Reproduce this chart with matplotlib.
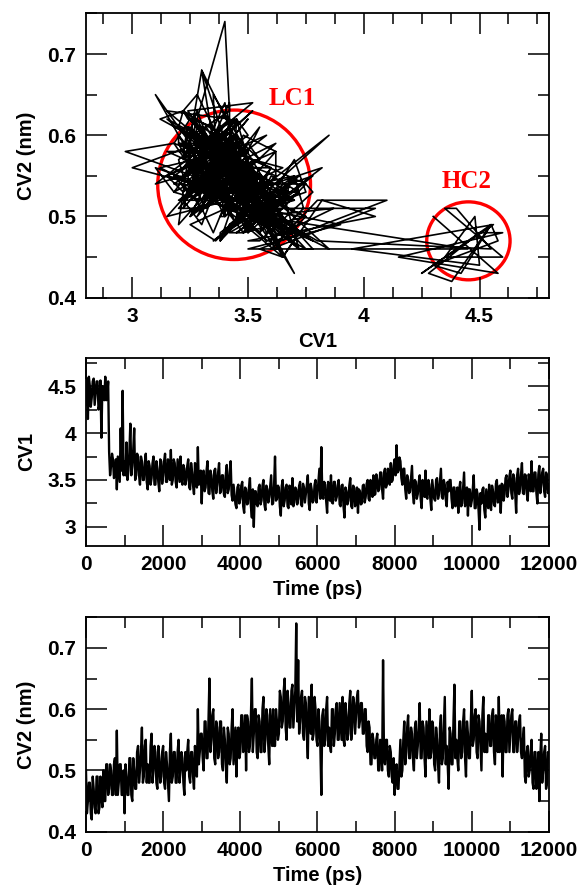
import numpy as np
import matplotlib
matplotlib.use('Agg')
import matplotlib.pyplot as plt
from matplotlib.patches import Ellipse
from matplotlib.ticker import MultipleLocator

# sampled every 25 ps, 0..12000 ps
time_ps = np.arange(0, 12001, 25)

cv1 = [
    4.30, 4.58, 4.15, 4.60, 4.50, 4.28, 4.38, 4.55, 4.58, 4.30, 4.42, 4.55, 4.55, 4.25, 4.30, 4.56, 3.95, 4.50, 4.48, 4.35,
    4.60, 4.35, 4.40, 4.55, 3.80, 3.55, 3.65, 3.78, 3.72, 3.52, 3.55, 3.72, 3.40, 3.75, 3.62, 3.48, 4.05, 3.60, 4.45, 3.55,
    3.70, 3.55, 3.90, 3.50, 3.60, 3.80, 4.10, 3.55, 3.65, 3.82, 4.05, 3.50, 3.55, 3.78, 3.75, 3.55, 3.45, 3.75, 3.70, 3.50,
    3.50, 3.68, 3.78, 3.48, 3.40, 3.70, 3.65, 3.45, 3.52, 3.68, 3.75, 3.45, 3.45, 3.70, 3.62, 3.48, 3.38, 3.72, 3.70, 3.46,
    3.55, 3.70, 3.78, 3.48, 3.48, 3.72, 3.65, 3.50, 3.82, 3.45, 3.50, 3.72, 3.68, 3.48, 3.42, 3.72, 3.60, 3.48, 3.75, 3.50,
    3.45, 3.66, 3.62, 3.45, 3.50, 3.65, 3.72, 3.42, 3.40, 3.68, 3.58, 3.44, 3.35, 3.68, 3.65, 3.42, 3.85, 3.45, 3.52, 3.60,
    3.25, 3.58, 3.60, 3.38, 3.42, 3.60, 3.70, 3.36, 3.35, 3.60, 3.55, 3.38, 3.30, 3.60, 3.62, 3.36, 3.45, 3.58, 3.68, 3.36,
    3.38, 3.55, 3.55, 3.35, 3.32, 3.56, 3.66, 3.36, 3.40, 3.58, 3.70, 3.34, 3.28, 3.45, 3.35, 3.24, 3.20, 3.42, 3.45, 3.25,
    3.30, 3.44, 3.48, 3.22, 3.15, 3.42, 3.40, 3.24, 3.25, 3.42, 3.52, 3.22, 3.10, 3.40, 3.00, 3.38, 3.38, 3.24, 3.22, 3.42,
    3.45, 3.24, 3.28, 3.44, 3.50, 3.24, 3.18, 3.44, 3.40, 3.26, 3.32, 3.44, 3.55, 3.24, 3.25, 3.44, 3.75, 3.28, 3.30, 3.44,
    3.42, 3.22, 3.12, 3.44, 3.50, 3.22, 3.28, 3.42, 3.45, 3.22, 3.20, 3.44, 3.38, 3.24, 3.52, 3.22, 3.26, 3.42, 3.40, 3.24,
    3.30, 3.44, 3.48, 3.24, 3.22, 3.46, 3.42, 3.26, 3.35, 3.45, 3.55, 3.25, 3.18, 3.46, 3.40, 3.26, 3.28, 3.45, 3.50, 3.26,
    3.35, 3.48, 3.62, 3.30, 3.85, 3.35, 3.30, 3.48, 3.45, 3.28, 3.15, 3.48, 3.40, 3.28, 3.55, 3.26, 3.25, 3.48, 3.48, 3.28,
    3.32, 3.44, 3.50, 3.24, 3.22, 3.44, 3.45, 3.22, 3.10, 3.42, 3.38, 3.24, 3.28, 3.44, 3.52, 3.22, 3.20, 3.44, 3.42, 3.22,
    3.30, 3.42, 3.15, 3.40, 3.38, 3.24, 3.25, 3.44, 3.45, 3.26, 3.32, 3.46, 3.50, 3.30, 3.28, 3.50, 3.42, 3.32, 3.55, 3.34,
    3.35, 3.56, 3.50, 3.38, 3.40, 3.58, 3.58, 3.40, 3.30, 3.58, 3.62, 3.42, 3.45, 3.62, 3.55, 3.45, 3.68, 3.48, 3.50, 3.66,
    3.72, 3.55, 3.87, 3.58, 3.60, 3.74, 3.70, 3.52, 3.45, 3.62, 3.62, 3.40, 3.30, 3.55, 3.50, 3.36, 3.38, 3.52, 3.65, 3.35,
    3.25, 3.50, 3.48, 3.30, 3.35, 3.48, 3.55, 3.30, 3.20, 3.50, 3.42, 3.32, 3.60, 3.32, 3.30, 3.50, 3.45, 3.30, 3.18, 3.50,
    3.40, 3.30, 3.28, 3.50, 3.52, 3.30, 3.35, 3.48, 3.62, 3.32, 3.30, 3.50, 3.45, 3.30, 3.22, 3.48, 3.38, 3.50, 3.50, 3.30,
    3.20, 3.42, 3.42, 3.22, 3.30, 3.42, 3.15, 3.40, 3.48, 3.22, 3.25, 3.42, 3.58, 3.22, 3.30, 3.42, 3.12, 3.40, 3.40, 3.22,
    3.28, 3.40, 3.55, 3.20, 3.20, 3.40, 3.35, 3.18, 2.97, 3.36, 3.25, 3.40, 3.42, 3.18, 3.10, 3.40, 3.30, 3.20, 3.45, 3.22,
    3.18, 3.44, 3.38, 3.24, 3.22, 3.46, 3.50, 3.26, 3.28, 3.44, 3.15, 3.46, 3.45, 3.28, 3.35, 3.52, 3.55, 3.32, 3.40, 3.54,
    3.60, 3.36, 3.30, 3.56, 3.52, 3.36, 3.15, 3.55, 3.62, 3.35, 3.40, 3.56, 3.68, 3.36, 3.35, 3.56, 3.55, 3.36, 3.28, 3.56,
    3.50, 3.38, 3.70, 3.38, 3.38, 3.58, 3.58, 3.36, 3.25, 3.56, 3.65, 3.36, 3.45, 3.58, 3.62, 3.38, 3.32, 3.58, 3.55, 3.36,
    3.45,
]

cv2 = [
    0.50, 0.43, 0.45, 0.48, 0.48, 0.43, 0.42, 0.49, 0.47, 0.44, 0.43, 0.49, 0.49, 0.43, 0.44, 0.49, 0.46, 0.44, 0.50, 0.45,
    0.45, 0.51, 0.51, 0.46, 0.47, 0.51, 0.50, 0.46, 0.46, 0.51, 0.52, 0.46, 0.565, 0.46, 0.48, 0.51, 0.51, 0.46, 0.46, 0.50,
    0.43, 0.51, 0.49, 0.46, 0.46, 0.52, 0.52, 0.46, 0.45, 0.52, 0.50, 0.47, 0.47, 0.53, 0.54, 0.48, 0.50, 0.53, 0.57, 0.48,
    0.49, 0.54, 0.55, 0.48, 0.51, 0.48, 0.48, 0.54, 0.56, 0.48, 0.50, 0.54, 0.53, 0.48, 0.47, 0.54, 0.52, 0.48, 0.49, 0.53,
    0.54, 0.48, 0.47, 0.53, 0.51, 0.48, 0.45, 0.53, 0.56, 0.48, 0.49, 0.53, 0.53, 0.48, 0.48, 0.53, 0.55, 0.48, 0.50, 0.53,
    0.52, 0.48, 0.46, 0.53, 0.50, 0.53, 0.55, 0.49, 0.48, 0.53, 0.53, 0.49, 0.47, 0.54, 0.51, 0.49, 0.60, 0.51, 0.53, 0.56,
    0.56, 0.52, 0.50, 0.58, 0.58, 0.52, 0.52, 0.58, 0.65, 0.53, 0.55, 0.59, 0.60, 0.52, 0.51, 0.58, 0.57, 0.52, 0.53, 0.58,
    0.58, 0.51, 0.50, 0.57, 0.55, 0.51, 0.48, 0.57, 0.56, 0.51, 0.52, 0.57, 0.60, 0.51, 0.54, 0.57, 0.49, 0.56, 0.57, 0.52,
    0.53, 0.59, 0.59, 0.53, 0.55, 0.59, 0.50, 0.59, 0.58, 0.53, 0.54, 0.59, 0.65, 0.53, 0.56, 0.60, 0.60, 0.53, 0.52, 0.59,
    0.58, 0.53, 0.53, 0.60, 0.62, 0.53, 0.55, 0.60, 0.59, 0.54, 0.51, 0.60, 0.57, 0.54, 0.60, 0.54, 0.54, 0.60, 0.58, 0.55,
    0.56, 0.63, 0.62, 0.57, 0.58, 0.63, 0.65, 0.57, 0.55, 0.63, 0.61, 0.57, 0.57, 0.63, 0.64, 0.57, 0.60, 0.63, 0.74, 0.58,
    0.68, 0.56, 0.58, 0.62, 0.63, 0.56, 0.55, 0.62, 0.61, 0.56, 0.52, 0.62, 0.59, 0.56, 0.64, 0.55, 0.56, 0.62, 0.60, 0.55,
    0.54, 0.60, 0.58, 0.54, 0.46, 0.59, 0.60, 0.54, 0.55, 0.60, 0.62, 0.54, 0.57, 0.54, 0.53, 0.60, 0.60, 0.54, 0.56, 0.60,
    0.61, 0.55, 0.55, 0.61, 0.58, 0.55, 0.62, 0.55, 0.54, 0.61, 0.59, 0.55, 0.56, 0.61, 0.63, 0.55, 0.57, 0.62, 0.61, 0.56,
    0.59, 0.62, 0.63, 0.57, 0.58, 0.61, 0.61, 0.56, 0.56, 0.60, 0.60, 0.54, 0.53, 0.58, 0.57, 0.51, 0.51, 0.56, 0.55, 0.52,
    0.52, 0.55, 0.56, 0.50, 0.50, 0.55, 0.54, 0.50, 0.68, 0.52, 0.51, 0.55, 0.55, 0.50, 0.49, 0.54, 0.53, 0.49, 0.48, 0.52,
    0.46, 0.50, 0.51, 0.47, 0.47, 0.51, 0.55, 0.49, 0.50, 0.55, 0.58, 0.51, 0.53, 0.57, 0.59, 0.52, 0.52, 0.57, 0.56, 0.52,
    0.50, 0.57, 0.58, 0.52, 0.54, 0.57, 0.61, 0.52, 0.52, 0.58, 0.57, 0.52, 0.49, 0.58, 0.55, 0.52, 0.60, 0.52, 0.53, 0.58,
    0.57, 0.51, 0.50, 0.57, 0.55, 0.51, 0.48, 0.57, 0.59, 0.51, 0.52, 0.57, 0.62, 0.51, 0.54, 0.51, 0.47, 0.57, 0.56, 0.51,
    0.51, 0.58, 0.64, 0.52, 0.55, 0.52, 0.50, 0.58, 0.58, 0.52, 0.53, 0.58, 0.60, 0.52, 0.49, 0.58, 0.56, 0.52, 0.52, 0.58,
    0.63, 0.54, 0.55, 0.59, 0.60, 0.53, 0.52, 0.59, 0.58, 0.54, 0.50, 0.59, 0.62, 0.53, 0.56, 0.53, 0.53, 0.59, 0.59, 0.54,
    0.54, 0.59, 0.60, 0.53, 0.51, 0.59, 0.57, 0.53, 0.62, 0.53, 0.55, 0.59, 0.49, 0.59, 0.58, 0.53, 0.53, 0.59, 0.60, 0.53,
    0.56, 0.59, 0.60, 0.53, 0.53, 0.58, 0.58, 0.53, 0.55, 0.58, 0.59, 0.53, 0.52, 0.55, 0.57, 0.49, 0.48, 0.53, 0.54, 0.49,
    0.50, 0.53, 0.55, 0.48, 0.47, 0.53, 0.53, 0.47, 0.49, 0.53, 0.45, 0.52, 0.56, 0.48, 0.50, 0.53, 0.54, 0.47, 0.48, 0.53,
    0.52,
]

# basin labels: name, centre (cv1, cv2), width, height, label position
basins = [
    ('LC1', (3.44, 0.539), 0.66, 0.184, (3.69, 0.645)),
    ('HC2', (4.452, 0.470), 0.36, 0.096, (4.446, 0.543)),
]

plt.rcParams['font.family'] = ['Liberation Sans', 'DejaVu Sans']
plt.rcParams['font.weight'] = 'bold'
plt.rcParams['axes.labelweight'] = 'bold'
plt.rcParams['axes.linewidth'] = 1.3


def style_axes(ax):
    ax.tick_params(which='both', direction='in', top=True, right=True,
                   labelsize=15, width=1.1)
    ax.tick_params(which='major', length=15, pad=7)
    ax.tick_params(which='minor', length=8)
    for lab in ax.get_xticklabels() + ax.get_yticklabels():
        lab.set_fontweight('bold')


fig = plt.figure(figsize=(5.77, 8.94), dpi=100)

ax1 = fig.add_axes([0.149, 0.667, 0.8024, 0.318])
ax1.plot(cv1, cv2, color='black', lw=1.2)
for name, centre, w, h, pos in basins:
    ax1.add_patch(Ellipse(centre, w, h, fill=False, edgecolor='#ff0000', lw=2.4))
    ax1.text(pos[0], pos[1], name, color='#ff0000', fontsize=18, fontweight='bold',
             family='Liberation Serif', ha='center', va='center')
ax1.set_xlim(2.8, 4.8)
ax1.set_ylim(0.4, 0.75)
ax1.xaxis.set_minor_locator(MultipleLocator(0.125))
ax1.yaxis.set_minor_locator(MultipleLocator(0.05))
ax1.set_xticks([3, 3.5, 4, 4.5])
ax1.set_xticklabels(['3', '3.5', '4', '4.5'])
ax1.set_yticks([0.4, 0.5, 0.6, 0.7])
ax1.set_yticklabels(['0.4', '0.5', '0.6', '0.7'])
ax1.set_xlabel('CV1', fontsize=14.5, labelpad=4)
ax1.set_ylabel('CV2 (nm)', fontsize=14.5, labelpad=8)
style_axes(ax1)

ax2 = fig.add_axes([0.149, 0.3896, 0.8024, 0.210])
ax2.plot(time_ps, cv1, color='black', lw=1.7)
ax2.set_xlim(0, 12000)
ax2.set_ylim(2.8, 4.8)
ax2.xaxis.set_major_locator(MultipleLocator(2000))
ax2.xaxis.set_minor_locator(MultipleLocator(1000))
ax2.set_yticks([3, 3.5, 4, 4.5])
ax2.set_yticklabels(['3', '3.5', '4', '4.5'])
ax2.yaxis.set_minor_locator(MultipleLocator(0.25))
ax2.set_xlabel('Time (ps)', fontsize=14.5, labelpad=4)
ax2.set_ylabel('CV1', fontsize=14.5, labelpad=8)
style_axes(ax2)

ax3 = fig.add_axes([0.149, 0.0697, 0.8024, 0.2398])
ax3.plot(time_ps, cv2, color='black', lw=1.7)
ax3.set_xlim(0, 12000)
ax3.set_ylim(0.4, 0.75)
ax3.xaxis.set_major_locator(MultipleLocator(2000))
ax3.xaxis.set_minor_locator(MultipleLocator(1000))
ax3.set_yticks([0.4, 0.5, 0.6, 0.7])
ax3.set_yticklabels(['0.4', '0.5', '0.6', '0.7'])
ax3.yaxis.set_minor_locator(MultipleLocator(0.05))
ax3.set_xlabel('Time (ps)', fontsize=14.5, labelpad=4)
ax3.set_ylabel('CV2 (nm)', fontsize=14.5, labelpad=8)
style_axes(ax3)

fig.savefig('out.png', dpi=100)
